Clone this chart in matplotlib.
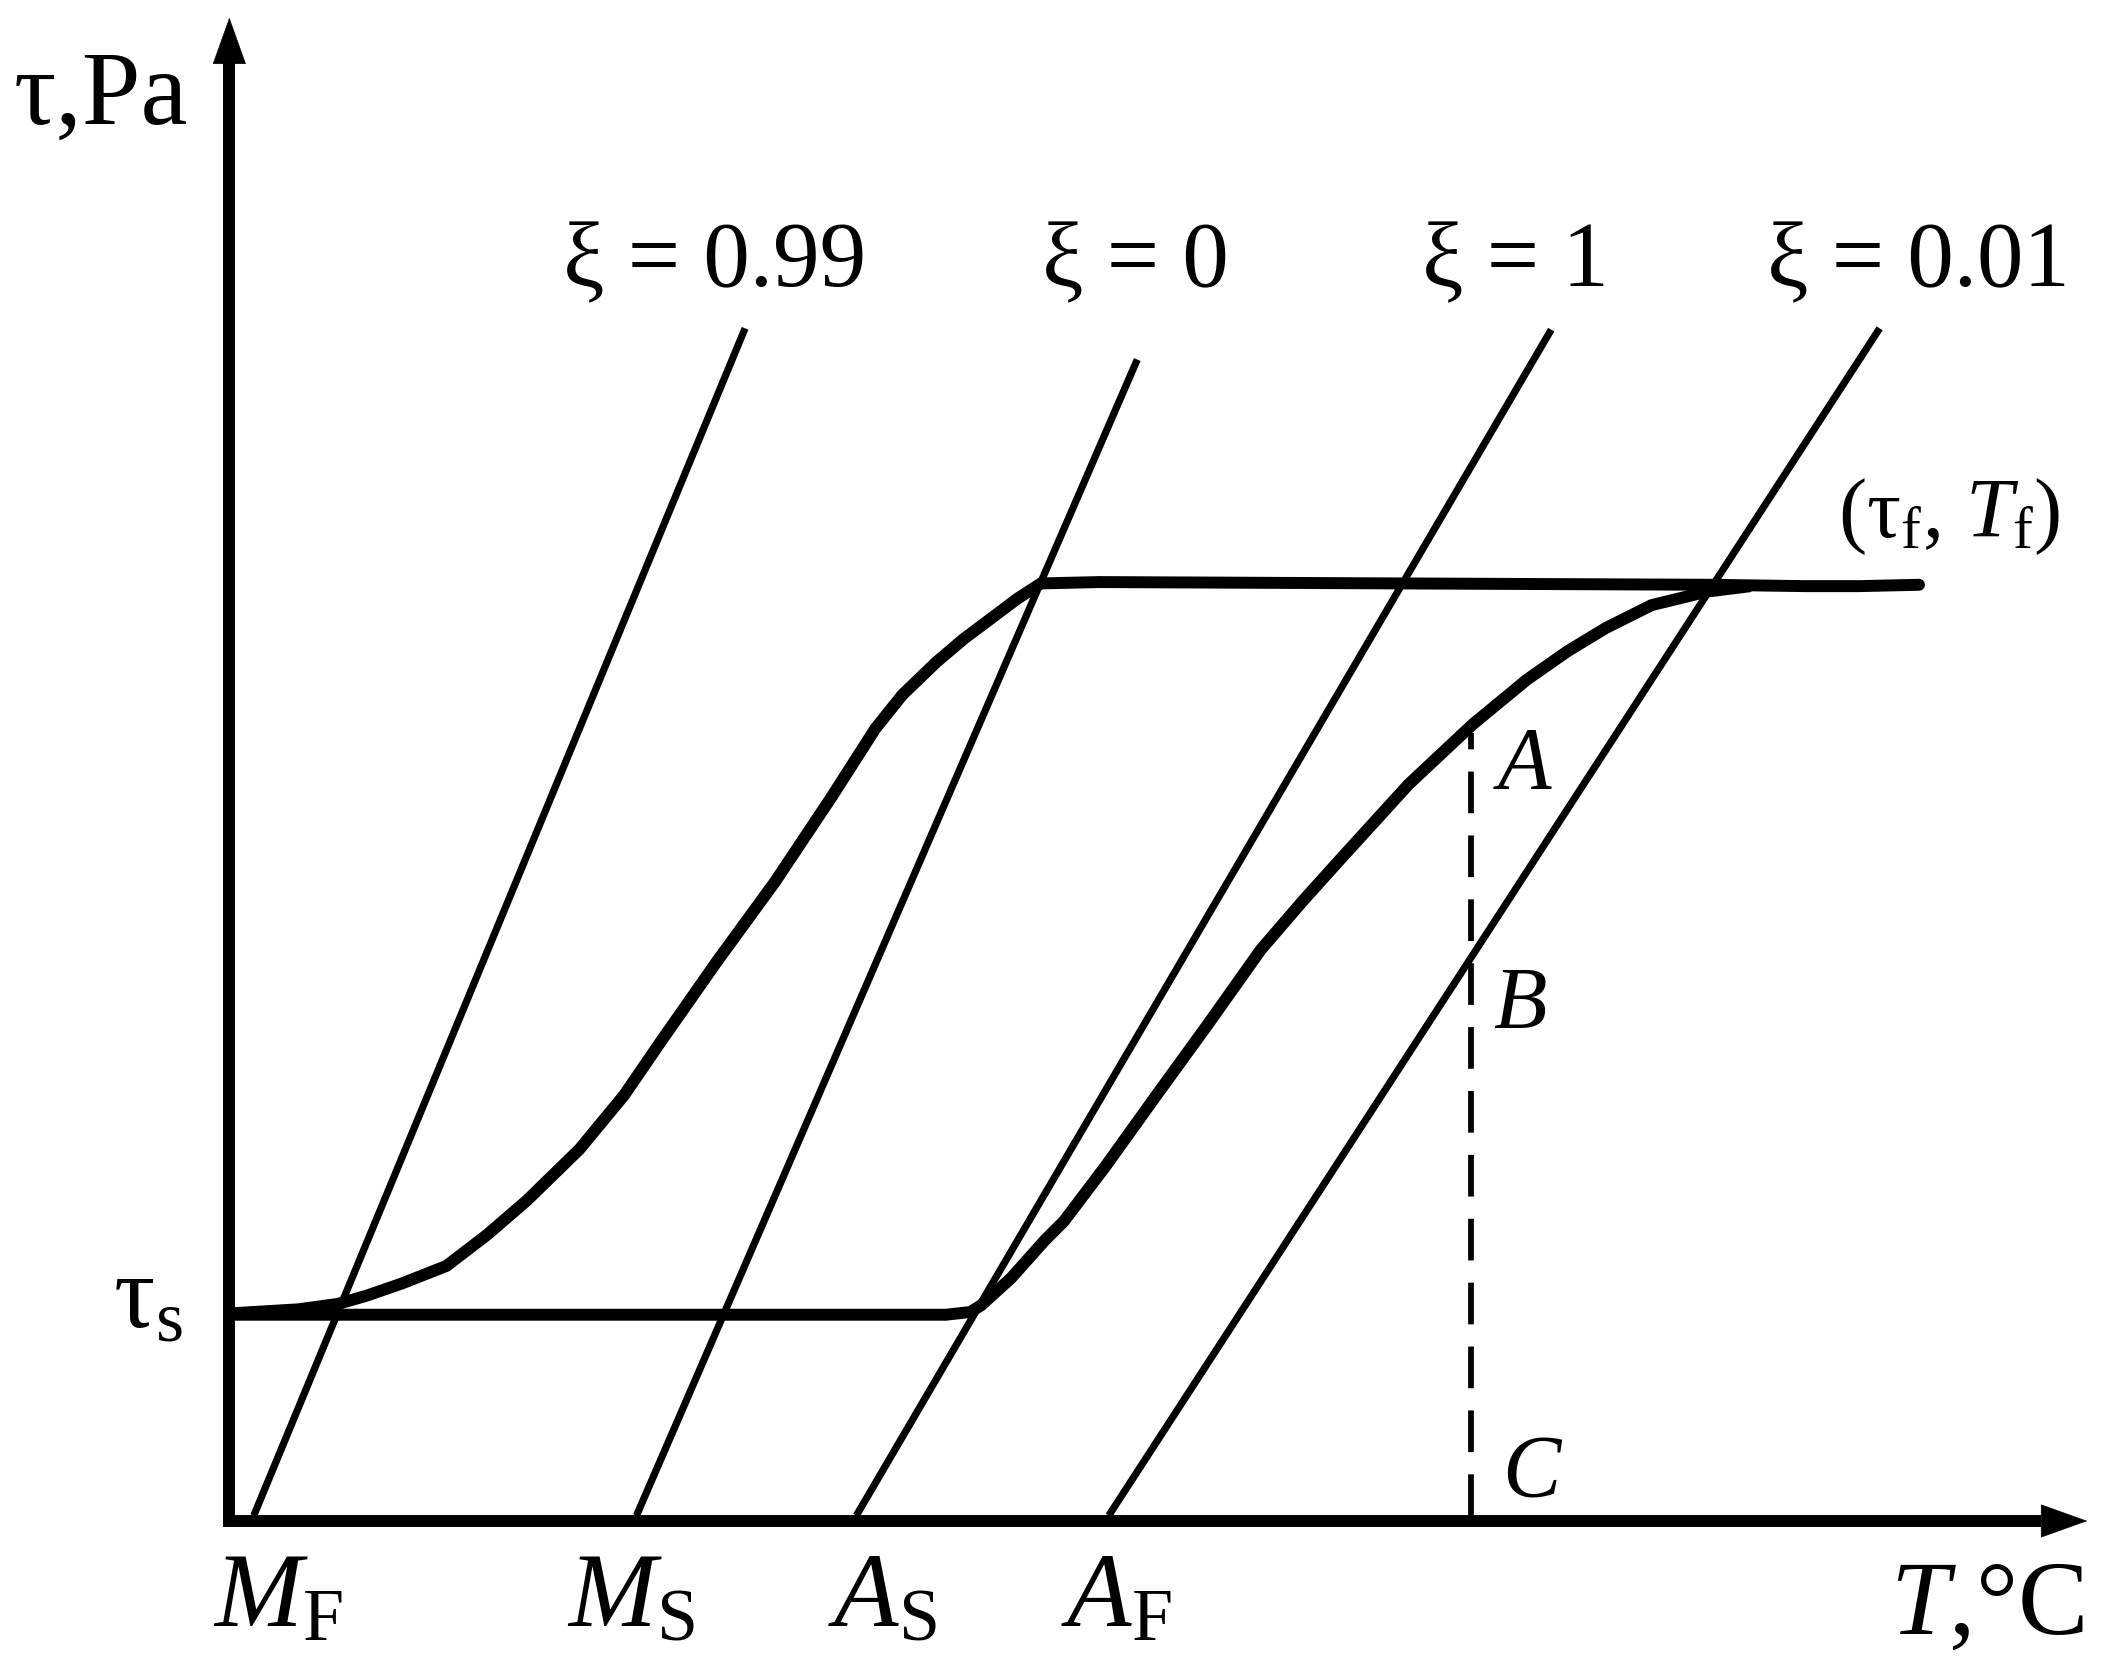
import matplotlib
matplotlib.use("Agg")
import matplotlib.pyplot as plt

plt.rcParams["font.family"] = ["Liberation Serif", "DejaVu Serif"]
plt.rcParams["mathtext.fontset"] = "custom"
plt.rcParams["mathtext.rm"] = "Liberation Serif"
plt.rcParams["mathtext.it"] = "Liberation Serif:italic"
plt.rcParams["lines.scale_dashes"] = False

# ---- data (schematic units: T along x, tau along y, origin at the axes corner) ----
xi_labels = ["ξ = 0.99", "ξ = 0", "ξ = 1", "ξ = 0.01"]
xi_T0 = [17, 299, 461, 647]        # where each xi-line meets the T axis
xi_T1 = [379, 668, 973, 1215]      # upper end
xi_tau1 = [875, 852, 874, 875]
xi_label_T = [245, 598, 878, 1132]
xi_label_tau = 906

# forward transformation curve (cooling branch) + upper plateau
fwd_T = [0, 50, 79, 100, 126, 159, 189, 218, 257, 290, 316, 358, 401, 443, 475,
         495, 520, 540, 560, 580, 597, 640, 860, 1090, 1160, 1200, 1244]
fwd_tau = [149, 152, 156, 162, 171, 184, 207, 232, 270, 310, 348, 408, 467, 530, 580,
           605, 629, 646, 661, 676, 687, 688, 687, 686, 685, 685, 686]

# reverse transformation curve (heating branch), starts on tau_s line
rev_T = [0, 527, 545, 553, 575, 600, 614, 645, 683, 720, 759, 790, 817, 868, 915,
         955, 985, 1013, 1047, 1088, 1120]
rev_tau = [148, 148, 150, 155, 175, 203, 217, 258, 311, 362, 417, 453, 483, 539, 583,
           616, 637, 654, 671, 681, 685]

temp_names = [r"$M_{\mathrm{F}}$", r"$M_{\mathrm{S}}$", r"$A_{\mathrm{S}}$", r"$A_{\mathrm{F}}$"]
temp_label_T = [-13, 248, 440, 612]

T_probe = 914          # dashed vertical line A-B-C
T_probe_top = 577
pts_ABC = ["A", "B", "C"]
pts_tau = [536, 359, 15]

# ---- figure ----
fig = plt.figure(figsize=(21.28, 16.77), dpi=100)
ax = fig.add_axes([0, 0, 1, 1])
ax.set_xlim(-170, 1398)
ax.set_ylim(-119, 1117)
ax.axis("off")

K = "black"
LW_AX = 8.6
LW_THICK = 8.6
LW_THIN = 5.2

# axes with arrow heads
ax.plot([-1, -1], [-4, 1072], color=K, lw=LW_AX, solid_capstyle="projecting")
ax.plot([-1, 1334], [-4, -4], color=K, lw=LW_AX, solid_capstyle="butt")
ax.annotate("", xy=(-1, 1104), xytext=(-1, 1060),
            arrowprops=dict(arrowstyle="-|>,head_length=1.62,head_width=0.58",
                            mutation_scale=20, lw=0.5, color=K, shrinkA=0, shrinkB=0))
ax.annotate("", xy=(1368, -4), xytext=(1320, -4),
            arrowprops=dict(arrowstyle="-|>,head_length=1.62,head_width=0.58",
                            mutation_scale=20, lw=0.5, color=K, shrinkA=0, shrinkB=0))

# xi = const lines
for t0, t1, h1 in zip(xi_T0, xi_T1, xi_tau1):
    ax.plot([t0, t1], [0, h1], color=K, lw=LW_THIN, solid_capstyle="butt")
for lab, tl in zip(xi_labels, xi_label_T):
    ax.text(tl, xi_label_tau, lab, fontsize=67, ha="left", va="baseline")

# transformation curves
ax.plot(fwd_T, fwd_tau, color=K, lw=LW_THICK, solid_joinstyle="round", solid_capstyle="round")
ax.plot(rev_T, rev_tau, color=K, lw=LW_THICK, solid_joinstyle="round", solid_capstyle="butt")

# dashed probe line
ax.plot([T_probe, T_probe], [0, T_probe_top], color=K, lw=LW_THIN * 0.8,
        dashes=(30, 16), solid_capstyle="butt")
for lab, h in zip(pts_ABC, pts_tau):
    dx = 23 if lab == "C" else 16
    ax.text(T_probe + dx, h, rf"${lab}$", fontsize=63, ha="left", va="baseline")

# axis labels
ax.text(-160, 1026, "τ,Pa", fontsize=76, ha="left", va="baseline")
ax.text(1365, -87, r"$T$,°C", fontsize=76, ha="right", va="baseline")
ax.text(-87, 139, r"$\mathrm{τ}_{\mathrm{s}}$", fontsize=74, ha="left", va="baseline")
ax.text(1184, 721, r"($\mathrm{τ}_{\mathrm{f}}$, $T_{\mathrm{f}}$)", fontsize=61,
        ha="left", va="baseline")
for lab, tl in zip(temp_names, temp_label_T):
    ax.text(tl, -82, lab, fontsize=76, ha="left", va="baseline")

fig.savefig("out.png", dpi=100, facecolor="white")
